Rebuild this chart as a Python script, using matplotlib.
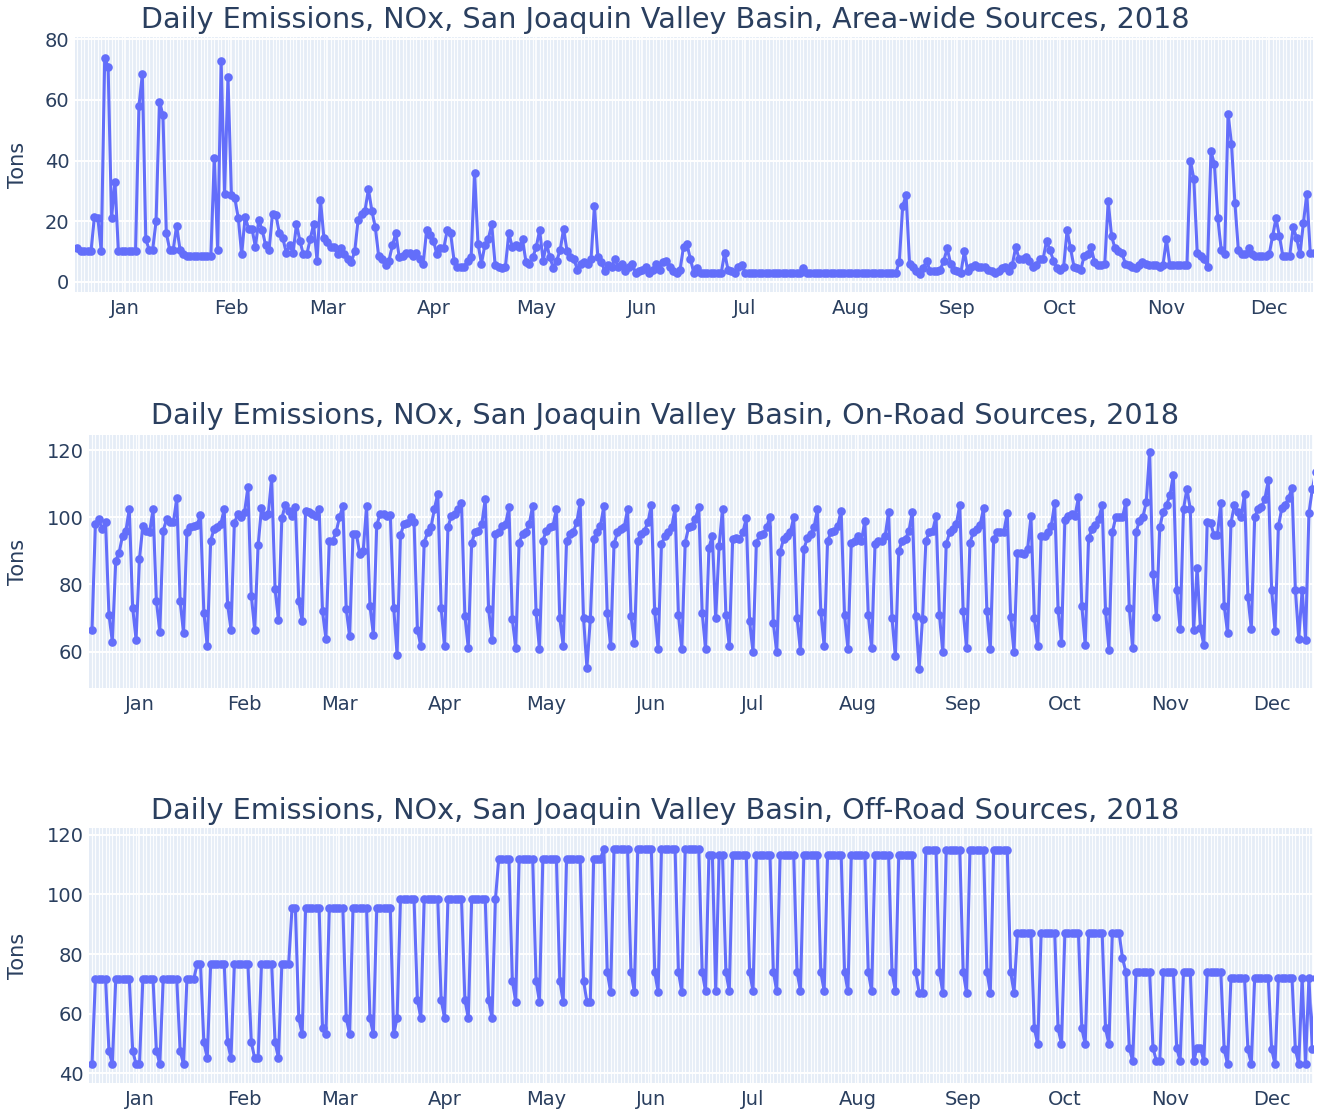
import numpy as np
import pandas as pd
import matplotlib
matplotlib.use("Agg")
import matplotlib.pyplot as plt
import matplotlib.dates as mdates

# ---------------- data (one row = one week, Mon..Sun) ----------------
start_date = "2017-12-18"

area_wide = [
    11, 10.2, 10, 10, 10, 21.5, 21,
    10, 74, 71, 21, 33, 10, 10,
    10, 10, 10, 10, 58, 68.5, 14,
    10.5, 10.5, 20, 59.5, 55, 16, 10.5,
    10.5, 18.5, 10.5, 9, 8.5, 8.5, 8.5,
    8.5, 8.5, 8.5, 8.5, 8.5, 41, 10.5,
    73, 29, 67.5, 28.5, 27.5, 21, 9,
    21.5, 17.5, 17.5, 11.5, 20.5, 17, 12,
    10.5, 22.5, 22, 16, 14.5, 9.5, 12,
    9.5, 19, 13.5, 9, 9, 14, 19,
    7, 27, 14.5, 13, 11.5, 11.5, 9,
    11, 9, 7.5, 6.5, 10, 20.5, 22.5,
    23.5, 30.5, 23.5, 18, 8.5, 7.5, 5.5,
    7, 12, 16, 8, 8.5, 9.5, 9.5,
    8.5, 9.5, 7.5, 6, 17, 15.5, 13.5,
    9, 11, 11, 17, 16, 7, 5,
    5, 5, 7, 8, 36, 12.5, 6,
    12, 14, 19, 5.5, 5, 4.5, 5,
    16, 11.5, 12, 11.5, 14, 6.5, 6,
    8, 11.5, 17, 7, 12.5, 8, 4.5,
    7, 10.5, 17.5, 10, 8, 7.5, 4,
    6, 6.5, 6, 7.5, 25, 8, 6.5,
    3.5, 5.5, 5, 7.5, 5, 6, 3.5,
    5, 6, 3, 3.5, 4, 5, 3,
    4, 6, 4, 6.5, 7, 5, 3.5,
    3, 4, 11.5, 12.5, 7.5, 3, 4.5,
    3, 2.8, 2.8, 2.8, 2.8, 2.8, 2.8,
    9.5, 4, 3.5, 3, 5, 5.5, 3,
    2.8, 2.8, 2.8, 2.8, 2.8, 2.8, 2.8,
    2.8, 2.8, 2.8, 2.8, 2.8, 2.8, 2.8,
    2.8, 2.8, 4.5, 2.8, 2.8, 2.8, 2.8,
    2.8, 2.8, 2.8, 2.8, 2.8, 2.8, 2.8,
    2.8, 2.8, 2.8, 2.8, 2.8, 2.8, 2.8,
    2.8, 2.8, 2.8, 2.8, 2.8, 2.8, 2.8,
    2.8, 2.8, 6.5, 25, 28.5, 6, 5,
    3.5, 2.5, 4.5, 7, 3.5, 3.5, 3.5,
    4, 7, 11, 6, 4, 3.5, 3,
    10, 3.5, 5, 5.5, 5, 5, 5,
    4, 3.5, 3, 3.5, 4.5, 5, 3.5,
    5.5, 11.5, 7.5, 7.5, 8, 7, 5,
    5.5, 7.5, 7.5, 13.5, 10.5, 7, 4.5,
    4, 5, 17, 11, 5, 4.5, 4,
    8.5, 9, 11.5, 6.5, 5.5, 5.5, 6,
    26.5, 15, 11, 10, 9.5, 6, 5.5,
    5, 4.5, 5.5, 6.5, 6, 5.5, 5.5,
    5.5, 5, 5.5, 14, 5.5, 5.5, 5.5,
    5.5, 5.5, 5.5, 40, 34, 9.5, 8.5,
    7.5, 5, 43, 39, 21, 10.5, 9,
    55.5, 45.5, 26, 10.5, 9, 9, 11,
    9, 8.5, 8.5, 8.5, 8.5, 9, 15,
    21, 15, 8.5, 8.5, 8.5, 18, 14.5,
    9, 19.5, 29, 9.5, 9.5, 9.5, 9.5,
]

on_road = [
    66.6, 98, 99.5, 96.5, 98.5, 71, 63,
    87, 89.5, 94.5, 96, 102.5, 73, 63.6,
    87.7, 97.5, 96, 95.5, 102.5, 75, 66,
    96, 99.5, 98.5, 98.5, 105.6, 75, 65.6,
    95.5, 97, 97.5, 97.7, 100.7, 71.6, 61.6,
    93, 96.5, 97, 98, 102.5, 74, 66.6,
    98.3, 101, 100, 101.5, 109, 76.6, 66.4,
    91.7, 102.7, 100.5, 101, 111.7, 78.6, 69.4,
    99.7, 103.7, 102, 100.5, 103, 75, 69,
    102, 101.7, 101, 100.5, 102.5, 72, 63.8,
    93, 93, 95.5, 100, 103.3, 72.6, 64.6,
    95, 95, 89, 90, 103.3, 73.6, 65.1,
    97.7, 101, 101, 100.3, 100.7, 73, 59.1,
    94.7, 98, 98.3, 100, 98.7, 66.6, 61.6,
    92.5, 95.5, 97, 102.5, 107, 73, 61.6,
    97, 100.5, 101, 102.5, 104.3, 70.6, 61.1,
    92.5, 95.5, 96, 98, 105.5, 72.6, 63.6,
    95, 95.5, 97.5, 98, 103, 69.6, 61.1,
    92.5, 95, 95.5, 98, 103.5, 71.8, 60.8,
    93, 96, 97, 97.5, 102.5, 70, 61.8,
    93, 95, 95.7, 98.5, 104.5, 70, 55.2,
    69.6, 93.5, 95.5, 97.5, 103.3, 71.6, 61.6,
    92, 95.5, 96.5, 97, 102.5, 70.6, 62.6,
    93, 95, 96, 98.5, 103.7, 72, 60.8,
    92, 94.5, 95.5, 97, 102.7, 71, 60.8,
    92.5, 97, 97.5, 99.5, 103, 71.6, 60.8,
    91, 94.5, 70, 91.5, 102.5, 70.8, 61.6,
    93.5, 93.7, 93.5, 95.5, 99.7, 69, 59.8,
    92.5, 94.7, 95, 97, 100, 68.4, 59.8,
    89.7, 93.5, 94.5, 95.5, 100, 70, 60.1,
    90.5, 93.7, 95, 97, 102.5, 71.8, 61.6,
    93, 95.5, 96, 97.5, 102, 70.8, 60.8,
    92.5, 93, 94.5, 93, 99, 71, 61.1,
    92, 93, 93, 94.5, 101.7, 70, 58.6,
    90, 93, 93.5, 96, 101.7, 70.6, 54.9,
    69.6, 93, 95.5, 96, 100.3, 70.8, 59.8,
    92, 95.5, 96.5, 98, 103.7, 72, 61.1,
    92.5, 95.5, 96.5, 97.7, 102.7, 72, 60.8,
    93.5, 95.5, 95.7, 95.7, 101.3, 70.4, 59.8,
    89.3, 89.5, 89, 90.5, 100.3, 70, 61.6,
    94.5, 94.5, 95.7, 97.5, 104.3, 72.4, 62.6,
    99.3, 100.5, 101, 100.5, 106, 73.6, 62.1,
    93.7, 96.5, 97.7, 99.5, 103.7, 72, 60.6,
    95.5, 100, 100, 100, 104.6, 73, 61.1,
    95.5, 99, 100, 104.5, 119.4, 83, 70.4,
    97, 101.7, 103.7, 106.5, 112.7, 78.4, 66.8,
    102.5, 108.5, 102.5, 66.5, 85, 67, 62,
    98.7, 98.3, 94.7, 94.7, 104.3, 73.6, 65.6,
    98.3, 103.7, 101.5, 100, 107, 76.3, 66.8,
    100, 102.5, 103, 105.5, 111, 78.4, 66.2,
    97.3, 102.7, 103.7, 105.7, 108.7, 78.4, 63.8,
    78.4, 63.5, 101.3, 108.4, 113.6, 80.7, 70,
]

off_road = [
    43, 71.5, 71.5, 71.5, 71.5, 47.5, 43,
    71.5, 71.5, 71.5, 71.5, 71.5, 47.5, 43,
    43, 71.5, 71.5, 71.5, 71.5, 47.5, 43,
    71.5, 71.5, 71.5, 71.5, 71.5, 47.5, 43,
    71.5, 71.5, 71.5, 76.6, 76.6, 50.3, 45,
    76.6, 76.6, 76.6, 76.6, 76.6, 50.3, 45,
    76.6, 76.6, 76.6, 76.6, 76.6, 50.3, 45,
    45, 76.6, 76.6, 76.6, 76.6, 50.3, 45,
    76.6, 76.6, 76.6, 95.3, 95.3, 58.5, 53,
    95.3, 95.3, 95.3, 95.3, 95.3, 55.2, 53,
    95.3, 95.3, 95.3, 95.3, 95.3, 58.5, 53,
    95.3, 95.3, 95.3, 95.3, 95.3, 58.5, 53,
    95.3, 95.3, 95.3, 95.3, 95.3, 53, 58.5,
    98.3, 98.3, 98.3, 98.3, 98.3, 64.6, 58.5,
    98.3, 98.3, 98.3, 98.3, 98.3, 64.6, 58.5,
    98.3, 98.3, 98.3, 98.3, 98.3, 64.6, 58.5,
    98.3, 98.3, 98.3, 98.3, 98.3, 64.6, 58.5,
    98.3, 112, 112, 112, 112, 71, 64,
    112, 112, 112, 112, 112, 71, 64,
    112, 112, 112, 112, 112, 71, 64,
    112, 112, 112, 112, 112, 71, 64,
    64, 112, 112, 112, 115.4, 74, 67.2,
    115.4, 115.4, 115.4, 115.4, 115.4, 74, 67.2,
    115.4, 115.4, 115.4, 115.4, 115.4, 74, 67.2,
    115.4, 115.4, 115.4, 115.4, 115.4, 74, 67.2,
    115.4, 115.4, 115.4, 115.4, 115.4, 74, 67.5,
    113.4, 113.4, 67.5, 113.4, 113.4, 74, 67.5,
    113.4, 113.4, 113.4, 113.4, 113.4, 74, 67.5,
    113.4, 113.4, 113.4, 113.4, 113.4, 74, 67.5,
    113.4, 113.4, 113.4, 113.4, 113.4, 74, 67.5,
    113.4, 113.4, 113.4, 113.4, 113.4, 74, 67.5,
    113.4, 113.4, 113.4, 113.4, 113.4, 74, 67.5,
    113.4, 113.4, 113.4, 113.4, 113.4, 74, 67.5,
    113.4, 113.4, 113.4, 113.4, 113.4, 74, 67.5,
    113.4, 113.4, 113.4, 113.4, 113.4, 74, 67,
    67, 114.8, 114.8, 114.8, 114.8, 74, 67,
    114.8, 114.8, 114.8, 114.8, 114.8, 74, 67,
    114.8, 114.8, 114.8, 114.8, 114.8, 74, 67,
    114.8, 114.8, 114.8, 114.8, 114.8, 74, 67,
    87, 87, 87, 87, 87, 55, 49.7,
    87, 87, 87, 87, 87, 55, 49.7,
    87, 87, 87, 87, 87, 55, 49.7,
    87, 87, 87, 87, 87, 55, 49.7,
    87, 87, 87, 78.6, 74, 48.5, 44,
    74, 74, 74, 74, 74, 48.5, 44,
    44, 74, 74, 74, 74, 48.5, 44,
    74, 74, 74, 44, 48.5, 48.5, 44,
    74, 74, 74, 74, 74, 48, 43,
    72, 72, 72, 72, 72, 48, 43,
    72, 72, 72, 72, 72, 48, 43,
    72, 72, 72, 72, 72, 48, 43,
    72, 43, 72, 48, 72, 48, 43,
]

series = [area_wide, on_road, off_road]
titles = [
    "Daily Emissions, NOx, San Joaquin Valley Basin, Area-wide Sources, 2018",
    "Daily Emissions, NOx, San Joaquin Valley Basin, On-Road Sources, 2018",
    "Daily Emissions, NOx, San Joaquin Valley Basin, Off-Road Sources, 2018",
]
y_ticks = [[0, 20, 40, 60, 80], [60, 80, 100, 120], [40, 60, 80, 100, 120]]
y_label = "Tons"

# ---------------- layout ----------------
W, H = 1319, 1111
fig = plt.figure(figsize=(W / 100, H / 100), dpi=100)
fig.patch.set_facecolor("white")

# axes rects in pixels: left, top, right, bottom
rects = [(75, 37.3, 1313, 291.7), (89.3, 435, 1313, 688.3), (89.3, 828.3, 1313, 1083.3)]
ylims = [(-3.3, 80.7), (49.1, 124.5), (36.6, 122.2)]
xlims_days = [(-0.67, 360.8), (-0.8, 360.2), (-0.8, 360.2)]
title_y = [20, 416, 811]

LINE = "#636efa"
TXT = "#2a3f5f"
BG = "#e5ecf6"
t0 = pd.Timestamp(start_date)

for k in range(3):
    l, t, r, b = rects[k]
    ax = fig.add_axes([l / W, 1 - b / H, (r - l) / W, (b - t) / H])
    ax.set_facecolor(BG)
    vals = series[k]
    dates = pd.date_range(start_date, periods=len(vals), freq="D")
    ax.plot(dates, vals, color=LINE, lw=2.2, marker="o", ms=6.2,
            markeredgewidth=0, zorder=3)
    ax.set_xlim(t0 + pd.Timedelta(days=xlims_days[k][0]),
                t0 + pd.Timedelta(days=xlims_days[k][1]))
    ax.set_ylim(*ylims[k])
    ax.set_yticks(y_ticks[k])
    ax.xaxis.set_major_locator(mdates.MonthLocator())
    ax.xaxis.set_major_formatter(mdates.DateFormatter("%b"))
    ax.xaxis.set_minor_locator(mdates.DayLocator())
    ax.grid(which="minor", axis="x", color="white", lw=0.9, alpha=0.9, zorder=0)
    ax.grid(which="major", axis="x", color="white", lw=1.2, zorder=0)
    ax.grid(which="major", axis="y", color="white", lw=1.4, zorder=0)
    ax.set_axisbelow(True)
    for s in ax.spines.values():
        s.set_visible(False)
    ax.tick_params(axis="both", which="both", length=0, labelsize=14,
                   labelcolor=TXT)
    ax.tick_params(axis="y", pad=4)
    ax.tick_params(axis="x", pad=5)
    fig.text(665 / W, 1 - title_y[k] / H, titles[k], ha="center", va="center",
             fontsize=20.6, color=TXT)
    fig.text(18 / W, 1 - ((t + b) / 2) / H, y_label, rotation=90, ha="center",
             va="center", fontsize=15, color=TXT)

fig.savefig("out.png", dpi=100, facecolor="white")
